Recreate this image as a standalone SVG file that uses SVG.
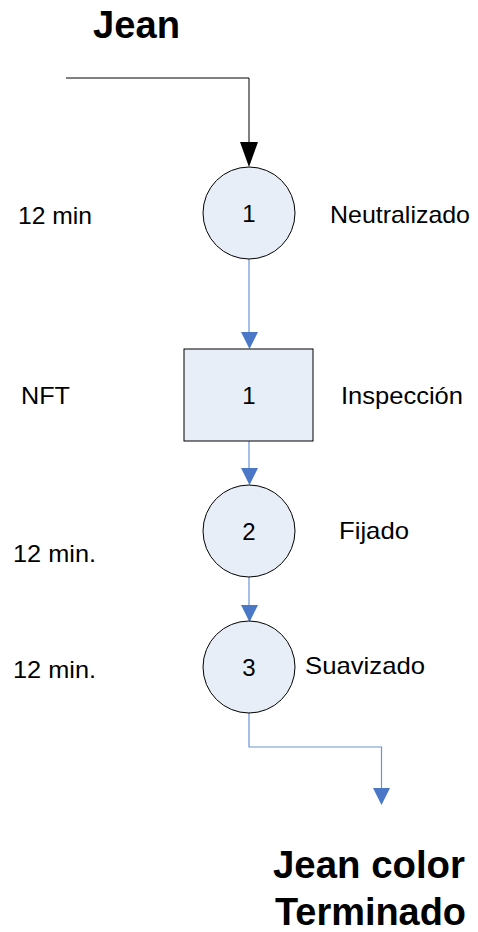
<svg xmlns="http://www.w3.org/2000/svg" width="478" height="932" viewBox="0 0 478 932">
  <style>
    .node { fill: #E8EEF8; stroke: #000; stroke-width: 1; }
    .lbl { font-family: "Liberation Sans", Arial, sans-serif; font-size: 24px; fill: #000; }
    .num { font-family: "Liberation Sans", Arial, sans-serif; font-size: 24px; fill: #000; text-anchor: middle; }
    .title { font-family: "Liberation Sans", Arial, sans-serif; font-size: 38px; font-weight: bold; fill: #000; }
    .flow { fill: none; stroke: #6C93D4; stroke-width: 1.2; }
    .feed { fill: none; stroke: #000; stroke-width: 1; }
  </style>
  <rect width="478" height="932" fill="#fff"/>

  <!-- titles -->
  <text class="title" x="93" y="38" textLength="87" lengthAdjust="spacingAndGlyphs">Jean</text>
  <text class="title" x="273" y="878" textLength="192" lengthAdjust="spacingAndGlyphs">Jean color</text>
  <text class="title" x="275" y="925" textLength="191" lengthAdjust="spacingAndGlyphs">Terminado</text>

  <!-- connectors -->
  <g id="connectors">
    <path class="feed" d="M66,78 H249 V143"/>
    <path d="M240,142 L258,142 L249,167 Z" fill="#000"/>
    <path class="flow" d="M249,259 V332"/>
    <path d="M241,332 L258,332 L249.5,349 Z" fill="#4A78C6"/>
    <path class="flow" d="M249,441 V468"/>
    <path d="M241,468 L258,468 L249.5,485 Z" fill="#4A78C6"/>
    <path class="flow" d="M249,577 V605"/>
    <path d="M241,605 L258,605 L249.5,622 Z" fill="#4A78C6"/>
    <path class="flow" d="M249,713 V747 H381.5 V789"/>
    <path d="M373,788 L390,788 L381.5,805 Z" fill="#4A78C6"/>
  </g>

  <!-- operation 1 -->
  <g id="op1">
    <circle class="node" cx="249" cy="213" r="46"/>
    <text class="num" x="249" y="222">1</text>
    <text class="lbl" x="18" y="224" textLength="74" lengthAdjust="spacingAndGlyphs">12 min</text>
    <text class="lbl" x="330" y="223" textLength="140" lengthAdjust="spacingAndGlyphs">Neutralizado</text>
  </g>

  <!-- inspection 1 -->
  <g id="insp1">
    <rect class="node" x="184" y="349" width="129" height="92"/>
    <text class="num" x="249" y="404">1</text>
    <text class="lbl" x="21" y="404" textLength="49" lengthAdjust="spacingAndGlyphs">NFT</text>
    <text class="lbl" x="341" y="404" textLength="122" lengthAdjust="spacingAndGlyphs">Inspección</text>
  </g>

  <!-- operation 2 -->
  <g id="op2">
    <circle class="node" cx="249" cy="531" r="46"/>
    <text class="num" x="249" y="540">2</text>
    <text class="lbl" x="339" y="539" textLength="70" lengthAdjust="spacingAndGlyphs">Fijado</text>
    <text class="lbl" x="13" y="562" textLength="83" lengthAdjust="spacingAndGlyphs">12 min.</text>
  </g>

  <!-- operation 3 -->
  <g id="op3">
    <circle class="node" cx="249" cy="667" r="46"/>
    <text class="num" x="249" y="676">3</text>
    <text class="lbl" x="305" y="674" textLength="120" lengthAdjust="spacingAndGlyphs">Suavizado</text>
    <text class="lbl" x="13" y="678" textLength="83" lengthAdjust="spacingAndGlyphs">12 min.</text>
  </g>
</svg>
